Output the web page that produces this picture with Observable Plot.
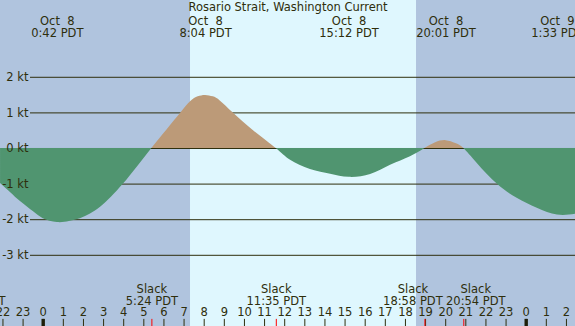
<!DOCTYPE html>
<html><head><meta charset="utf-8">
<script src="https://cdn.jsdelivr.net/npm/d3@7"></script>
<script src="https://cdn.jsdelivr.net/npm/@observablehq/plot@0.6"></script>
<style>
html,body{margin:0;padding:0;background:#b0c4de;}
svg text{white-space:pre;}
</style></head><body><div id="chart"></div>
<script>
// ---- data ----
const title = "Rosario Strait, Washington Current";
// hours relative to Oct 8 00:00 PDT
const curveHours = [-2.12,-1.6,-1.13,-0.48,0.0,0.70,1.3,1.85,2.35,2.85,3.4,3.99,4.69,5.40,6.16,6.82,7.32,7.7,8.07,8.45,8.81,9.46,10.45,11.58,12.29,13.28,14.28,15.2,16.27,17.26,18.25,18.97,19.5,20.02,20.5,20.9,21.57,22.56,23.55,24.55,25.55,26.45];
const currentKt  = [-0.98,-1.25,-1.49,-1.78,-1.97,-2.08,-2.05,-1.97,-1.84,-1.65,-1.36,-1.0,-0.51,0,0.53,0.98,1.31,1.45,1.49,1.45,1.33,0.99,0.50,0,-0.33,-0.59,-0.72,-0.81,-0.73,-0.47,-0.23,0,0.16,0.22,0.14,0,-0.42,-1.0,-1.40,-1.68,-1.87,-1.85];

const eventHours  = [0.70, 8.067, 15.2, 20.017, 25.55];
const eventLabels = ["Oct  8\n0:42 PDT","Oct  8\n8:04 PDT","Oct  8\n15:12 PDT","Oct  8\n20:01 PDT","Oct  9\n1:33 PDT"];

const slackHours  = [-3.35, 5.4, 11.583, 18.967, 20.9];
const slackLabels = ["Slack\n20:39 PDT","Slack\n5:24 PDT","Slack\n11:35 PDT","Slack\n18:58 PDT","Slack\n20:54 PDT"];

const tickHours  = [-2,-1,0,1,2,3,4,5,6,7,8,9,10,11,12,13,14,15,16,17,18,19,20,21,22,23,24,25,26];
const tickLabels = ["22","23","0","1","2","3","4","5","6","7","8","9","10","11","12","13","14","15","16","17","18","19","20","21","22","23","0","1","2"];
const midnightHours = [0, 24];

const yTicks      = [2, 1, 0, -1, -2, -3];
const yTickLabels = ["2 kt","1 kt","0 kt","-1 kt","-2 kt","-3 kt"];

const sunrise = 7.32, sunset = 18.55;

// ---- layout / style ----
const W = 575, H = 326;
const xDomain = [-2.122, 26.45];
const yDomain = [-5.0, 4.157];
const gridStart = -0.631;
const tickTop = -4.80;
const nightColor = "#b0c4de", dayColor = "#dff7fe";
const ebbColor = "#509570", floodColor = "#bc9a78";
const ink = "#2e2e0c";
const labelShift = [0, 0, 0, -12, 12]; // slack labels pushed apart where they would collide

const rows = curveHours.map((h, i) => ({h, v: currentKt[i]}));
const events = eventHours.map((h, i) => ({h, label: eventLabels[i]}));
const slacks = slackHours.map((h, i) => ({h, label: slackLabels[i], shift: labelShift[i]}));
const ticks = tickHours.map((h, i) => ({h, label: tickLabels[i]}));
const yt = yTicks.map((v, i) => ({v, label: yTickLabels[i]}));

const slackText = [...new Set(labelShift)].map(s =>
  Plot.text(slacks.filter(d => d.shift === s), {x: "h", text: "label", frameAnchor: "top", lineAnchor: "top", dy: 283.5, dx: s, lineHeight: 1.07, fill: ink})
);

const chart = Plot.plot({
  width: W, height: H,
  margin: 0,
  x: {domain: xDomain, axis: null},
  y: {domain: yDomain, axis: null},
  style: {fontFamily: "'DejaVu Sans', sans-serif", fontSize: "11.5px", background: nightColor, color: ink},
  marks: [
    Plot.rect([{s: sunrise, e: sunset}], {x1: "s", x2: "e", fill: dayColor}),
    Plot.ruleY(yt, {y: "v", x1: gridStart, x2: xDomain[1], stroke: ink, strokeWidth: 1}),
    Plot.areaY(rows, {x: "h", y1: 0, y2: "v", fill: "url(#tideFill)", curve: "natural"}),
    Plot.text(yt, {x: gridStart, y: "v", text: "label", textAnchor: "end", dx: -2, fill: ink}),
    Plot.text([title], {text: d => d, frameAnchor: "top", lineAnchor: "top", dy: 2.8, fill: ink}),
    Plot.text(events, {x: "h", text: "label", frameAnchor: "top", lineAnchor: "top", dy: 15.8, lineHeight: 1.045, fill: ink}),
    ...slackText,
    Plot.text(ticks, {x: "h", text: "label", frameAnchor: "top", lineAnchor: "top", dy: 307.5, fill: ink}),
    Plot.ruleX(ticks, {x: "h", y1: tickTop, y2: yDomain[0], stroke: ink, strokeWidth: 1}),
    Plot.ruleX(midnightHours, {x: d => d, y1: tickTop, y2: yDomain[0], stroke: "#1e1e08", strokeWidth: 3.4}),
    Plot.ruleX(slackHours, {x: d => d, y1: tickTop, y2: yDomain[0], stroke: "#ff0000", strokeWidth: 1})
  ]
});

// flood (above 0) / ebb (below 0) fill split at the y-scale's zero
const y0 = chart.scale("y").apply(0);
const defs = d3.select(chart).insert("defs", ":first-child");
const grad = defs.append("linearGradient").attr("id", "tideFill")
  .attr("gradientUnits", "userSpaceOnUse")
  .attr("x1", 0).attr("x2", 0).attr("y1", 0).attr("y2", H);
grad.append("stop").attr("offset", y0 / H).attr("stop-color", floodColor);
grad.append("stop").attr("offset", y0 / H).attr("stop-color", ebbColor);

document.getElementById("chart").appendChild(chart);
</script></body></html>
